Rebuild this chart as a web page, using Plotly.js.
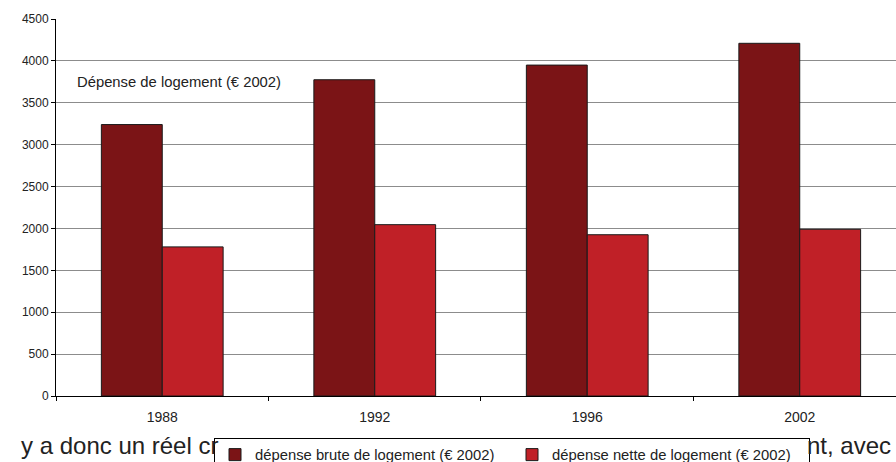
<!DOCTYPE html>
<html>
<head>
<meta charset="utf-8">
<script src="https://cdn.plot.ly/plotly-3.0.1.min.js"></script>
<style>
html,body{margin:0;padding:0;background:#fff;}
#chart{width:896px;height:462px;}
</style>
</head>
<body>
<div id="chart"></div>
<script>
var years = ["1988", "1992", "1996", "2002"];
var brute = [3240, 3775, 3950, 4210];
var nette = [1780, 2045, 1925, 1990];
var seriesNames = ["dépense brute de logement (€ 2002)", "dépense nette de logement (€ 2002)"];
var yTicks = [0, 500, 1000, 1500, 2000, 2500, 3000, 3500, 4000, 4500];
var chartLabel = "Dépense de logement (€ 2002)";
var bodyLeft = "y a donc un réel cr";
var bodyRight = "nt, avec";

var FONT = "Liberation Sans, Arial, sans-serif";

var traces = [
  {type: "bar", x: years, y: brute, name: seriesNames[0],
   marker: {color: "#7b1416", line: {color: "#1a1a1a", width: 1}}},
  {type: "bar", x: years, y: nette, name: seriesNames[1],
   marker: {color: "#c02027", line: {color: "#1a1a1a", width: 1}}}
];

var layout = {
  width: 896, height: 462,
  margin: {l: 56, r: 0, t: 19, b: 66, pad: 0, autoexpand: false},
  paper_bgcolor: "#fff", plot_bgcolor: "#fff",
  font: {family: FONT, color: "#222", size: 12},
  barmode: "group", bargap: 0.427, bargroupgap: 0,
  showlegend: true,
  xaxis: {
    type: "category", range: [-0.5, 3.453],
    showline: true, linecolor: "#000", linewidth: 1,
    ticks: "outside", tickson: "boundaries", ticklen: 4, tickcolor: "#000",
    showgrid: false, zeroline: false, automargin: false,
    tickfont: {size: 14, family: FONT, color: "#222"},
    ticklabelstandoff: 8
  },
  yaxis: {
    range: [0, 4500], tickvals: yTicks, ticktext: yTicks.map(String),
    showline: true, linecolor: "#000", linewidth: 1,
    ticks: "outside", ticklen: 4, tickcolor: "#000",
    showgrid: true, gridcolor: "#8c8c8c", gridwidth: 1,
    zeroline: false, automargin: false,
    tickfont: {size: 12, family: FONT, color: "#222"}
  },
  legend: {
    orientation: "h", xref: "container", yref: "container",
    x: 214 / 896, xanchor: "left", y: 1 - 437.5 / 462, yanchor: "top",
    bgcolor: "#fff", bordercolor: "#000", borderwidth: 1,
    font: {size: 14.8, family: FONT, color: "#222"},
    entrywidth: 252, itemwidth: 30, traceorder: "normal"
  },
  annotations: [
    {xref: "paper", yref: "paper", x: 0.0232, y: 0.832, xanchor: "left", yanchor: "middle",
     text: chartLabel, showarrow: false, font: {size: 14.8, family: FONT, color: "#222"}},
    {xref: "paper", yref: "paper", x: 0.1952, y: -0.132, xanchor: "right", yanchor: "middle",
     text: bodyLeft, showarrow: false, font: {size: 24, family: FONT, color: "#222"}},
    {xref: "paper", yref: "paper", x: 0.8917, y: -0.132, xanchor: "left", yanchor: "middle",
     text: bodyRight, showarrow: false, font: {size: 24, family: FONT, color: "#222"}}
  ]
};

Plotly.newPlot("chart", traces, layout, {displayModeBar: false, staticPlot: true});
</script>
</body>
</html>
